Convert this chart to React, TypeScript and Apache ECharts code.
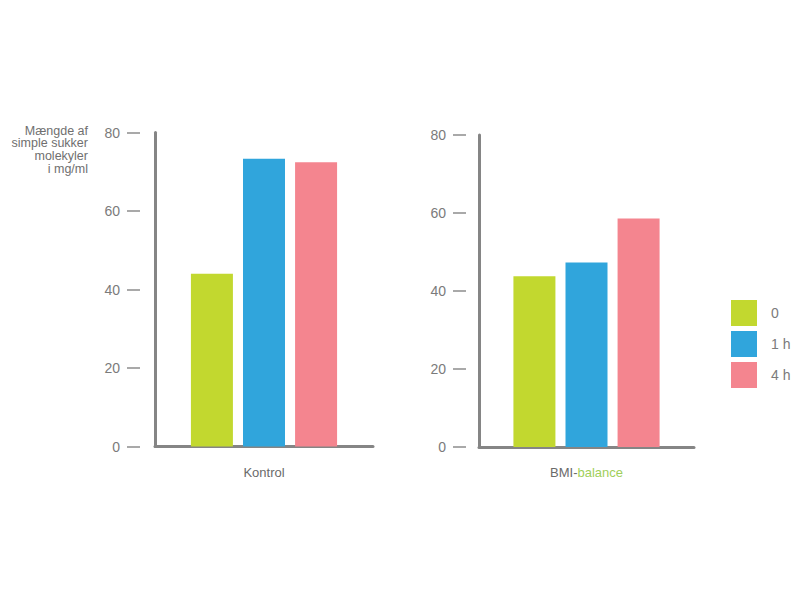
import React, { useEffect, useRef } from "react";
import * as echarts from "echarts";

const categories = ["Kontrol", "BMI-balance"];
const seriesNames = ["0", "1 h", "4 h"];
const values0 = [44, 43.8];
const values1h = [73.3, 47.3];
const values4h = [72.4, 58.6];
const yTicks = { min: 0, max: 80, interval: 20 };
const yAxisTitle = "Mængde af\nsimple sukker\nmolekyler\ni mg/ml";

const colors = ["#c2d82f", "#30a5dc", "#f4858f"];
const axisGray = "#858585";
const textGray = "#7b7b7b";
const font = "Liberation Sans, Arial, sans-serif";

export default function App() {
  const ref = useRef<HTMLDivElement>(null);
  useEffect(() => {
    if (!ref.current) return;
    const chart = echarts.init(ref.current, null, { renderer: "svg" });
    const seriesValues = [values0, values1h, values4h];
    const grids = [
      { left: 155, right: 427, top: 132.5, bottom: 153.5 },
      { left: 479, right: 106, top: 135, bottom: 153 },
    ];
    const offsets = [15, 13];
    const xAxes = categories.map((c, i) => ({
      type: "category",
      gridIndex: i,
      data: [c],
      axisLine: { show: true, lineStyle: { color: axisGray, width: 3 } },
      axisTick: { show: false },
      axisLabel: {
        margin: 19,
        fontFamily: font,
        fontSize: 13,
        color: "#6a6a6a",
        formatter: (v: string) =>
          v.startsWith("BMI-") ? "{a|BMI-}{b|" + v.slice(4) + "}" : v,
        rich: {
          a: { color: "#6a6a6a", fontSize: 13, fontFamily: font },
          b: { color: "#9fcf5a", fontSize: 13, fontFamily: font },
        },
      },
    }));
    const yAxes: any[] = [];
    categories.forEach((_, i) => {
      yAxes.push({
        type: "value",
        gridIndex: i,
        position: "left",
        ...yTicks,
        splitLine: { show: false },
        axisLine: { show: true, lineStyle: { color: axisGray, width: 3 } },
        axisTick: { show: false },
        axisLabel: { show: false },
      });
      yAxes.push({
        type: "value",
        gridIndex: i,
        position: "left",
        ...yTicks,
        offset: offsets[i],
        splitLine: { show: false },
        axisLine: { show: false },
        axisTick: { show: true, length: 13, lineStyle: { color: "#8c8c8c", width: 1.5 } },
        axisLabel: {
          margin: 20,
          fontFamily: font,
          fontSize: 14,
          color: textGray,
        },
      });
    });
    const series: any[] = [];
    categories.forEach((_, i) => {
      seriesNames.forEach((name, k) => {
        series.push({
          type: "bar",
          name,
          xAxisIndex: i,
          yAxisIndex: i * 2,
          data: [seriesValues[k][i]],
          barWidth: 42,
          barGap: "24%",
          itemStyle: { color: colors[k] },
        });
      });
    });
    chart.setOption({
      animation: false,
      color: colors,
      grid: grids,
      xAxis: xAxes,
      yAxis: yAxes,
      series,
      legend: {
        data: seriesNames,
        orient: "vertical",
        left: 731,
        top: 300,
        padding: 0,
        itemWidth: 26,
        itemHeight: 26,
        itemGap: 5,
        icon: "rect",
        textStyle: {
          fontFamily: font,
          fontSize: 14,
          color: textGray,
          padding: [0, 0, 0, 9],
        },
      },
      graphic: [
        {
          type: "text",
          right: 800 - 88,
          top: 124,
          style: {
            text: yAxisTitle,
            textAlign: "right",
            fontFamily: font,
            fontSize: 12.5,
            lineHeight: 12.8,
            fill: "#6f6f6f",
          },
        },
      ],
    });
    return () => chart.dispose();
  }, []);
  return (
    <div
      ref={ref}
      style={{ position: "absolute", left: 0, top: 0, width: 800, height: 600, background: "#fff" }}
    />
  );
}
